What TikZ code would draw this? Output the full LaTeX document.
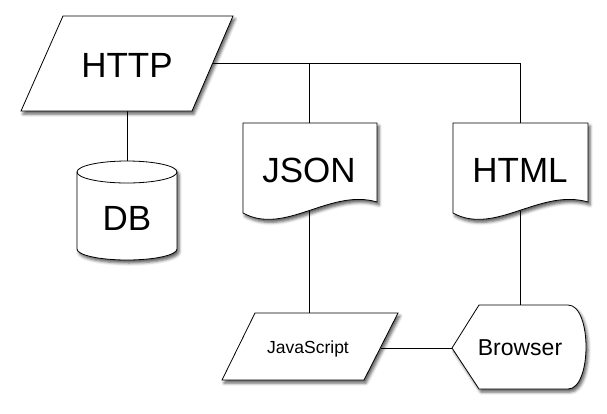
\documentclass[tikz,border=0pt]{standalone}
\usepackage{fontspec}
\setmainfont{Liberation Sans}
\usetikzlibrary{shadows.blur}
\pgfdeclarelayer{bg}
\pgfsetlayers{bg,main}
\begin{document}
\begin{tikzpicture}[x=1pt,y=-1pt,line width=0.8pt,
  shp/.style={draw=black,fill=white,line join=miter,
    blur shadow={shadow xshift=2pt,shadow yshift=-3pt,shadow blur radius=3pt,shadow opacity=65}},
  big/.style={font=\fontsize{35}{40}\selectfont,inner sep=0pt,anchor=base},
  mid/.style={font=\fontsize{23}{27}\selectfont,inner sep=0pt,anchor=base},
  small/.style={font=\fontsize{17.5}{20}\selectfont,inner sep=0pt,anchor=base},
  conn/.style={draw=black,line width=0.8pt}]
\useasboundingbox (0,0) rectangle (607,413);
% shapes
\draw[shp] (63,16) -- (233,16) -- (192,111) -- (21,111) -- cycle;
\draw[shp] (77,172) arc[start angle=180,end angle=0,x radius=50pt,y radius=11pt]
  -- (177,249) arc[start angle=0,end angle=-180,x radius=50pt,y radius=11pt] -- cycle;
\draw (77,172) arc[start angle=180,end angle=360,x radius=50pt,y radius=11pt];
\draw[shp] (243,123) -- (377,123) -- (377,202) .. controls (330,188) and (285,236) .. (243,213) -- cycle;
\draw[shp] (453,123) -- (588,123) -- (588,202) .. controls (540,188) and (495,236) .. (453,213) -- cycle;
\draw[shp] (255,313) -- (398,313) -- (364,380) -- (222,380) -- cycle;
\draw[shp] (452,348) -- (479,305) -- (568,305) .. controls (592,305) and (592,389) .. (568,389) -- (479,389) -- cycle;
% texts
\node[big] (http) at (127,77) {HTTP};
\node[big] (db) at (127,230) {DB};
\node[big] (json) at (309,182) {JSON};
\node[big] (html) at (520,182) {HTML};
\node[small] (js) at (308,353) {JavaScript};
\node[mid] (browser) at (520,355) {Browser};
% connector points
\coordinate (httpR) at (213,63);
\coordinate (httpB) at (127,111);
\coordinate (dbT) at (127,165);
\coordinate (split) at (309,63);
\coordinate (corner) at (520,63);
\coordinate (jsonT) at (309,123);
\coordinate (jsonB) at (309,200);
\coordinate (jsT) at (309,313);
\coordinate (htmlT) at (520,123);
\coordinate (htmlB) at (520,200);
\coordinate (brT) at (520,305);
\coordinate (jsR) at (381,348);
\coordinate (brL) at (452,348);
\begin{pgfonlayer}{bg}
\draw[conn] (httpB) -- (dbT);
\draw[conn] (httpR) -- (corner) -- (htmlT);
\draw[conn] (split) -- (jsonT);
\draw[conn] (jsonB) -- (jsT);
\draw[conn] (htmlB) -- (brT);
\draw[conn] (jsR) -- (brL);
\end{pgfonlayer}
\end{tikzpicture}
\end{document}
